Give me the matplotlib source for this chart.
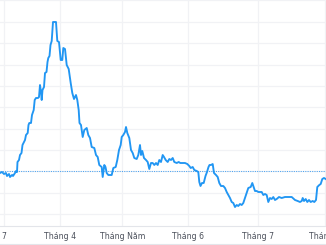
import numpy as np
import matplotlib
matplotlib.use('agg')
import matplotlib.pyplot as plt

# price path (x = trading position, y = level above the axis)
xs = [0, 2, 4, 6, 7, 9, 10, 12, 13, 15, 16, 17, 17.5, 19, 20, 21.5, 22.5, 23.5, 25, 26,
      27.7, 28.5, 29.3, 31, 32, 33.7, 34.7, 36, 38, 39, 40, 41, 41.7, 42.5, 44, 44.5, 45,
      46.5, 47.5, 48.3, 49.5, 50.5, 51.7, 53, 56, 57.3, 59, 60.7, 62.3, 63.3, 65, 66.7,
      68.7, 70.7, 72.3, 74, 76, 77.3, 78.7, 79.5, 81, 82.7, 84.3, 86.7, 88.3, 90, 91.7,
      94.3, 96, 97.7, 99.3, 101.7, 102.7, 104.3, 105.5, 106.7, 108.3, 111.7, 113.3, 115.7,
      117.3, 119, 120.7, 121.7, 123.3, 125, 126, 127.3, 129.3, 131, 132.7, 134.3, 136.7,
      138.3, 140, 141, 142.3, 144, 146, 147.7, 149.3, 151, 152.7, 154.3, 156, 157.7, 159.3,
      161, 162.7, 164, 165.7, 167.7, 169.3, 171, 172.7, 174.3, 176.7, 178.7, 180.3, 182.7,
      185, 187.3, 189.3, 190.7, 192.7, 194.3, 196.7, 198.3, 199.3, 200.5, 202, 203.7, 205.5,
      207, 208.5, 209.5, 211, 212.7, 214, 216, 217.7, 219.3, 221, 223.3, 225, 226.7, 228.3,
      230, 231.7, 233.3, 235, 236.7, 238.3, 240, 241.7, 243.3, 245, 246.7, 248.3, 250.7,
      252.3, 253.3, 255, 256.7, 258.3, 260, 261.7, 263.3, 265, 266.7, 268.3, 270, 271.7,
      273.3, 275, 276.7, 279, 281.7, 285, 288.3, 291.7, 295, 297.7, 300, 301.7, 302.7, 304,
      305.7, 307.3, 309, 310.7, 312.7, 314.3, 316, 317.3, 319.3, 320.7, 322.3, 324, 325.7]
ys_px = [173, 172, 174, 173, 176, 174, 177, 175, 176, 173, 171, 172, 162, 160, 155, 153, 145,
         143, 140, 135, 133, 125, 123, 123, 115, 110, 100, 98, 98, 97, 85, 92, 100, 90, 87,
         80, 73, 72, 62, 58, 56, 45, 41, 22, 22, 41, 42, 60, 60, 48, 49, 65, 69, 83, 93, 99,
         95, 100, 110, 123, 125, 137, 130, 128, 135, 138, 147, 148, 155, 157, 165, 167, 177,
         165, 167, 173, 175, 175, 168, 167, 160, 150, 145, 137, 135, 132, 127, 133, 138, 150,
         153, 158, 159, 155, 145, 155, 151, 158, 160, 162, 169, 163, 163, 165, 163, 165, 160,
         162, 155, 157, 160, 162, 159, 160, 158, 162, 163, 162, 163, 163, 163, 164, 166, 168,
         167, 170, 171, 172, 182, 186, 183, 183, 176, 172, 167, 165, 165, 164, 173, 175, 177,
         183, 186, 186, 188, 192, 195, 198, 202, 203, 207, 205, 206, 204, 205, 203, 198, 193,
         188, 187, 183, 186, 191, 191, 192, 192, 192, 195, 194, 195, 202, 198, 199, 197, 200,
         199, 197, 198, 197, 197, 197, 200, 201, 202, 201, 198, 201, 199, 202, 200, 202, 201,
         202, 200, 187, 185, 184, 179, 178, 179]
values = [226 - v for v in ys_px]
ref_level = 55

tick_pos = [3.5, 60.3, 122.3, 188.3, 257.7, 325.3]
tick_labels = ["7", "Tháng 4", "Tháng Năm", "Tháng 6", "Tháng 7", "Tháng 8"]

fig = plt.figure(figsize=(3.26, 2.45), dpi=100)
ax = fig.add_axes([0, 19 / 245, 1, 226 / 245])

ax.plot(xs, values, color='#2196f3', lw=1.35, solid_joinstyle='round', zorder=3)
ax.axhline(ref_level, color='#4da3f0', lw=0.75, ls=(0, (1, 1.2)), zorder=2)

ax.set_xlim(0, 326)
ax.set_ylim(0, 226)
ax.set_xticks(tick_pos)
ax.set_xticklabels(tick_labels, fontsize=5.6, color='#4a4f5a')
ax.set_yticks(np.arange(12, 226, 21.35))
ax.tick_params(axis='x', length=0, pad=4.5)
ax.tick_params(axis='y', length=0, labelleft=False)
ax.grid(True, color='#f1f2f5', lw=0.9)
ax.set_axisbelow(True)
for s in ['left', 'right', 'top']:
    ax.spines[s].set_visible(False)
ax.spines['bottom'].set_color('#e3e5ea')
ax.spines['bottom'].set_linewidth(0.8)

fig.add_artist(plt.Line2D([0, 1], [1.5 / 245, 1.5 / 245], color='#e3e5ea', lw=0.8))

fig.savefig('out.png', dpi=100)
